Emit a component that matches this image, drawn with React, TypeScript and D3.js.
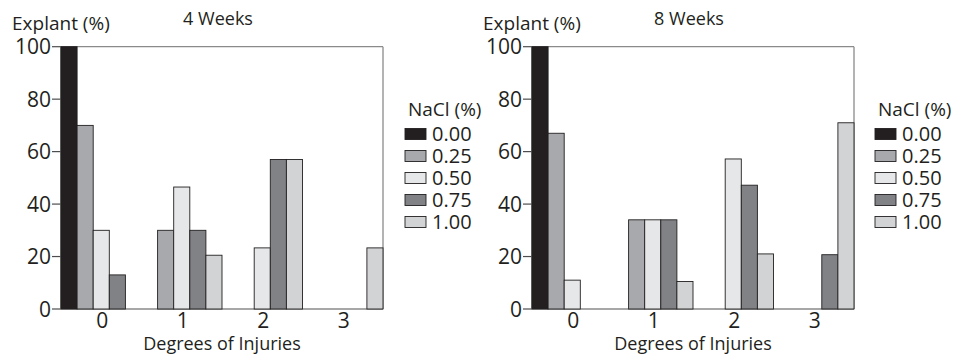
import React from "react";
import * as d3 from "d3";

// Degree-of-injury categories and NaCl concentrations
const injuryDegrees = ["0", "1", "2", "3"];
const naclLevels = ["0.00", "0.25", "0.50", "0.75", "1.00"];
const naclColors = ["#231f20", "#a7a9ac", "#e6e7e8", "#808285", "#d1d3d4"];
const yTicks = [0, 20, 40, 60, 80, 100];

// Explant percentage per injury degree, one row per NaCl level
const weeks4 = [
  [100, 0, 0, 0],
  [70, 30, 0, 0],
  [30, 46.5, 23.3, 0],
  [13, 30, 57, 0],
  [0, 20.5, 57, 23.3],
];
const weeks8 = [
  [100, 0, 0, 0],
  [67, 34, 0, 0],
  [11, 34, 57.2, 0],
  [0, 34, 47.2, 20.7],
  [0, 10.5, 21, 71],
];

const FONT = "'Open Sans', sans-serif";
const TEXT = "#231f20";

type PanelProps = {
  title: string;
  values: number[][];
  left: number;
  right: number;
  legendX: number;
};

function Panel({ title, values, left, right, legendX }: PanelProps) {
  const top = 46.7;
  const bottom = 309;
  const x0 = d3.scaleBand<string>().domain(injuryDegrees).range([left, right]).paddingInner(0).paddingOuter(0);
  const x1 = d3.scaleBand<string>().domain(naclLevels).range([0, x0.bandwidth()]).padding(0);
  const y = d3.scaleLinear().domain([0, 100]).range([bottom, top]);

  return (
    <g>
      {/* frame */}
      <line x1={left} x2={right} y1={top} y2={top} stroke="#8a8a8a" strokeWidth={1.3} />
      <line x1={right} x2={right} y1={top} y2={bottom} stroke="#8a8a8a" strokeWidth={1.3} />
      <line x1={left} x2={right} y1={bottom} y2={bottom} stroke="#8a8a8a" strokeWidth={1.3} />
      <line x1={left} x2={left} y1={top} y2={bottom} stroke="#4d4d4f" strokeWidth={1.3} />

      {/* bars */}
      {naclLevels.map((lvl, i) =>
        injuryDegrees.map((deg, j) => {
          const v = values[i][j];
          if (v <= 0) return null;
          const bx = (x0(deg) as number) + (x1(lvl) as number);
          return (
            <rect
              key={lvl + deg}
              x={bx}
              y={y(v)}
              width={x1.bandwidth()}
              height={bottom - y(v)}
              fill={naclColors[i]}
              stroke="#231f20"
              strokeWidth={0.9}
            />
          );
        })
      )}

      {/* y axis ticks */}
      {yTicks.map((t) => (
        <g key={t}>
          <line x1={left - 9} x2={left} y1={y(t)} y2={y(t)} stroke="#4d4d4f" strokeWidth={1.2} />
          <text
            x={left - 10}
            y={y(t)}
            dy="0.36em"
            textAnchor="end"
            fontFamily={FONT}
            fontSize={21}
            fill={TEXT}
          >
            {t}
          </text>
        </g>
      ))}

      {/* x category labels */}
      {injuryDegrees.map((deg) => (
        <text
          key={deg}
          x={(x0(deg) as number) + x0.bandwidth() / 2 + 1}
          y={328}
          textAnchor="middle"
          fontFamily={FONT}
          fontSize={21}
          fill={TEXT}
        >
          {deg}
        </text>
      ))}

      <text x={(left + right) / 2} y={350} textAnchor="middle" fontFamily={FONT} fontSize={18} fill={TEXT}>
        Degrees of Injuries
      </text>
      <text x={left - 49} y={30} fontFamily={FONT} fontSize={19} fill={TEXT}>
        Explant (%)
      </text>
      <text x={(left + right) / 2 - 4} y={25} textAnchor="middle" fontFamily={FONT} fontSize={18} fill={TEXT}>
        {title}
      </text>

      {/* legend */}
      <text x={legendX + 3} y={116} fontFamily={FONT} fontSize={19} fill={TEXT}>
        NaCl (%)
      </text>
      {naclLevels.map((lvl, i) => {
        const cy = 134 + i * 22;
        return (
          <g key={lvl}>
            <rect x={legendX} y={cy - 5.5} width={21} height={11} fill={naclColors[i]} stroke="#231f20" strokeWidth={0.9} />
            <text x={legendX + 27} y={cy} dy="0.36em" fontFamily={FONT} fontSize={20} fill={TEXT}>
              {lvl}
            </text>
          </g>
        );
      })}
    </g>
  );
}

export default function App() {
  return (
    <svg
      width={958}
      height={360}
      style={{ position: "absolute", left: 0, top: 0, background: "#fff" }}
    >
      <rect width={958} height={360} fill="#fff" />
      <Panel title="4 Weeks" values={weeks4} left={61} right={383} legendX={405} />
      <Panel title="8 Weeks" values={weeks8} left={532} right={854} legendX={875} />
    </svg>
  );
}
